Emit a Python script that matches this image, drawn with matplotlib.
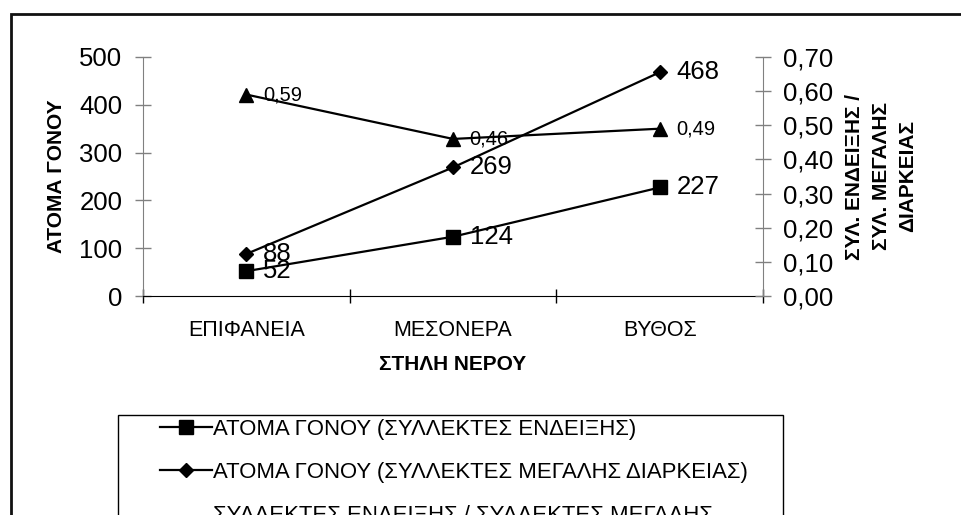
import matplotlib

matplotlib.use("Agg")
import matplotlib.pyplot as plt
from matplotlib.patches import Rectangle
from matplotlib.ticker import FixedLocator, FuncFormatter

plt.rcParams["font.family"] = ["Liberation Sans", "DejaVu Sans"]

categories = ["ΕΠΙΦΑΝΕΙΑ", "ΜΕΣΟΝΕΡΑ", "ΒΥΘΟΣ"]
indicator = [52, 124, 227]
long_term = [88, 269, 468]
ratio = [0.59, 0.46, 0.49]

series_names = [
    "ΑΤΟΜΑ ΓΟΝΟΥ (ΣΥΛΛΕΚΤΕΣ ΕΝΔΕΙΞΗΣ)",
    "ΑΤΟΜΑ ΓΟΝΟΥ (ΣΥΛΛΕΚΤΕΣ ΜΕΓΑΛΗΣ ΔΙΑΡΚΕΙΑΣ)",
    "ΣΥΛΛΕΚΤΕΣ ΕΝΔΕΙΞΗΣ / ΣΥΛΛΕΚΤΕΣ ΜΕΓΑΛΗΣ\nΔΙΑΡΚΕΙΑΣ",
]

W, H = 962, 515
fig = plt.figure(figsize=(W / 100, H / 100), dpi=100)


def px(x, y):
    return x / W, 1 - y / H


# axes box in pixels: left 143, right 763, top 57, bottom 296
l, t = px(143, 57)
r, b = px(763, 296)
ax = fig.add_axes([l, b, r - l, t - b])
ax2 = ax.twinx()

xs = list(range(len(categories)))
h1, = ax.plot(xs, indicator, color="black", lw=1.6, marker="s", ms=10, label=series_names[0])
h2, = ax.plot(xs, long_term, color="black", lw=1.6, marker="D", ms=7.5, label=series_names[1])
h3, = ax2.plot(xs, ratio, color="black", lw=1.6, marker="^", ms=10.5, label=series_names[2])

for x, v in zip(xs, indicator):
    ax.annotate(str(v), (x, v), xytext=(12, 0), textcoords="offset points",
                va="center", ha="left", fontsize=18.5)
for x, v in zip(xs, long_term):
    ax.annotate(str(v), (x, v), xytext=(12, 0), textcoords="offset points",
                va="center", ha="left", fontsize=18.5)
for x, v in zip(xs, ratio):
    ax2.annotate(f"{v:.2f}".replace(".", ","), (x, v), xytext=(12, 0),
                 textcoords="offset points", va="center", ha="left", fontsize=14.5)

ax.set_xlim(-0.5, 2.5)
ax.set_ylim(0, 500)
ax2.set_ylim(0, 0.70)

ax.set_yticks([0, 100, 200, 300, 400, 500])
ax2.set_yticks([0, 0.1, 0.2, 0.3, 0.4, 0.5, 0.6, 0.7])
ax2.yaxis.set_major_formatter(FuncFormatter(lambda v, p: f"{v:.2f}".replace(".", ",")))

ax.xaxis.set_major_locator(FixedLocator([-0.5, 0.5, 1.5, 2.5]))
ax.xaxis.set_major_formatter(FuncFormatter(lambda v, p: ""))
ax.xaxis.set_minor_locator(FixedLocator(xs))
ax.set_xticklabels(categories, minor=True)
ax.tick_params(axis="x", which="minor", length=0, pad=17, labelsize=15.5)
ax.tick_params(axis="x", which="major", direction="inout", length=10, width=1, color="black")
ax.tick_params(axis="y", direction="inout", length=11.5, width=1, color="#808080",
               pad=9, labelsize=18.5)
ax2.tick_params(axis="y", direction="inout", length=11.5, width=1, color="#808080",
                pad=9, labelsize=18.5)

for a in (ax, ax2):
    a.spines["top"].set_visible(False)
    a.patch.set_visible(False)
ax.spines["right"].set_visible(False)
ax2.spines["left"].set_visible(False)
ax2.spines["bottom"].set_visible(False)
ax.spines["left"].set_color("#808080")
ax2.spines["right"].set_color("#808080")
ax.spines["bottom"].set_color("black")

ax.set_ylabel("ΑΤΟΜΑ ΓΟΝΟΥ", fontsize=15, fontweight="bold")
ax.yaxis.set_label_coords(-0.124, 0.5)
ax2.set_ylabel("ΣΥΛ. ΕΝΔΕΙΞΗΣ /\nΣΥΛ. ΜΕΓΑΛΗΣ\nΔΙΑΡΚΕΙΑΣ", fontsize=15,
               fontweight="bold", rotation=90, linespacing=1.5)
ax2.yaxis.set_label_coords(1.133, 0.5)
ax.set_xlabel("ΣΤΗΛΗ ΝΕΡΟΥ", fontsize=15, fontweight="bold")
ax.xaxis.set_label_coords(0.5, -0.248)

# outer chart frame (cropped at right and bottom)
fx, fy = px(11, 14)
fig.patches.append(Rectangle((fx, -0.2), 1.2, fy + 0.2, transform=fig.transFigure,
                             fill=False, lw=2, edgecolor="#111111", clip_on=False))

# legend box (cropped at bottom)
lx0, ly0 = px(118, 415)
lx1, _ = px(783, 415)
fig.patches.append(Rectangle((lx0, -0.2), lx1 - lx0, ly0 + 0.2, transform=fig.transFigure,
                             fill=False, lw=1, edgecolor="black", clip_on=False))

hx, hy = px(160, 419)
fig.legend([h1, h2, h3], series_names, loc="upper left", bbox_to_anchor=(hx, hy),
           frameon=False, borderpad=0, borderaxespad=0, fontsize=15.9,
           handlelength=2.35, handletextpad=0.05, labelspacing=1.0)

fig.savefig("out.png", dpi=100)
